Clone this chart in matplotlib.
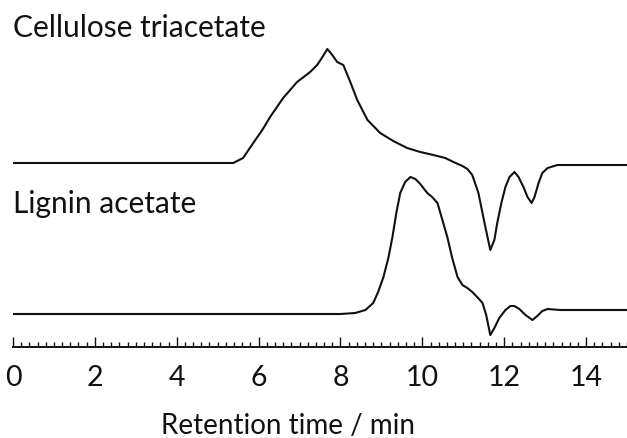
import numpy as np
import matplotlib
matplotlib.use("Agg")
import matplotlib.pyplot as plt
from matplotlib.ticker import MultipleLocator

plt.rcParams['font.family'] = ['Lato', 'DejaVu Sans']

# Cellulose triacetate trace (retention time / min, signal)
t_cta = [0.00, 4.57, 5.38, 5.62, 5.87, 6.09, 6.28, 6.60, 6.94, 7.26, 7.43, 7.56,
         7.68, 7.80, 7.92, 8.07, 8.24, 8.41, 8.66, 8.97, 9.29, 9.63, 9.95, 10.27,
         10.56, 10.76, 10.98, 11.10, 11.22, 11.37, 11.54, 11.66, 11.76, 11.83, 11.93,
         12.03, 12.13, 12.25, 12.35, 12.47, 12.57, 12.67, 12.74, 12.84, 12.93, 13.06,
         13.30, 13.86, 15.01]
s_cta = [0, 0, 0, 5, 20, 33, 46, 65, 81, 91, 98, 106,
         114, 108, 101, 98, 81, 63, 43, 30, 22, 15, 11, 8,
         5, 1, -3, -6, -12, -30, -64, -87, -77, -60, -40,
         -24, -14, -9, -14, -24, -34, -40, -34, -20, -10, -5,
         -2, -2, -2]

# Lignin acetate trace
t_lig = [0.00, 8.00, 8.36, 8.61, 8.80, 8.92, 9.05, 9.17, 9.27, 9.36, 9.46, 9.58,
         9.71, 9.83, 9.95, 10.12, 10.24, 10.37, 10.49, 10.61, 10.73, 10.86, 10.98,
         11.10, 11.22, 11.34, 11.47, 11.56, 11.66, 11.76, 11.88, 12.03, 12.15, 12.25,
         12.37, 12.52, 12.69, 12.81, 12.93, 13.06, 13.37, 15.01]
s_lig = [0, 0, 1, 4, 11, 22, 37, 56, 77, 100, 121, 132,
         137, 135, 130, 121, 117, 111, 94, 77, 56, 37, 29,
         26, 22, 17, 11, -1, -21, -14, -4, 4, 8, 8,
         5, -1, -6, -2, 3, 5, 4, 4]

labels = ['Cellulose triacetate', 'Lignin acetate']

fig = plt.figure(figsize=(6.27, 4.38), dpi=100)
ax = fig.add_axes([13 / 627, 91 / 438, 614 / 627, 347 / 438])

# traces are stacked with a vertical offset
offsets = [184, 33]
ax.plot(t_cta, np.array(s_cta) + offsets[0], color='#111111', lw=1.5)
ax.plot(t_lig, np.array(s_lig) + offsets[1], color='#111111', lw=1.5)

ax.text(0.0, 310, labels[0], fontsize=21.5, ha='left', va='baseline', color='#111111')
ax.text(0.0, 134, labels[1], fontsize=21.5, ha='left', va='baseline', color='#111111')

ax.set_xlim(0, 15.0)
ax.set_ylim(0, 347)
for s in ['left', 'top', 'right']:
    ax.spines[s].set_visible(False)
ax.spines['bottom'].set_linewidth(1.4)
ax.spines['bottom'].set_color('#111111')
ax.set_yticks([])

ax.xaxis.set_major_locator(MultipleLocator(2))
ax.xaxis.set_minor_locator(MultipleLocator(0.2))
ax.tick_params(axis='x', which='major', direction='in', length=7.5, width=1.0,
               pad=13, labelsize=20.5, colors='#111111')
ax.tick_params(axis='x', which='minor', direction='in', length=3.6, width=1.0,
               colors='#111111')
for tick in ax.xaxis.get_minor_ticks():
    loc = tick.get_loc()
    if abs(loc - round(loc)) < 1e-6 and int(round(loc)) % 2 == 1:
        tick.tick1line.set_markersize(5.5)

ax.set_xlabel('Retention time / min', fontsize=20, color='#111111')
ax.xaxis.set_label_coords(0.448, -0.19)
ax.patch.set_visible(False)

fig.savefig('out.png', dpi=100)
